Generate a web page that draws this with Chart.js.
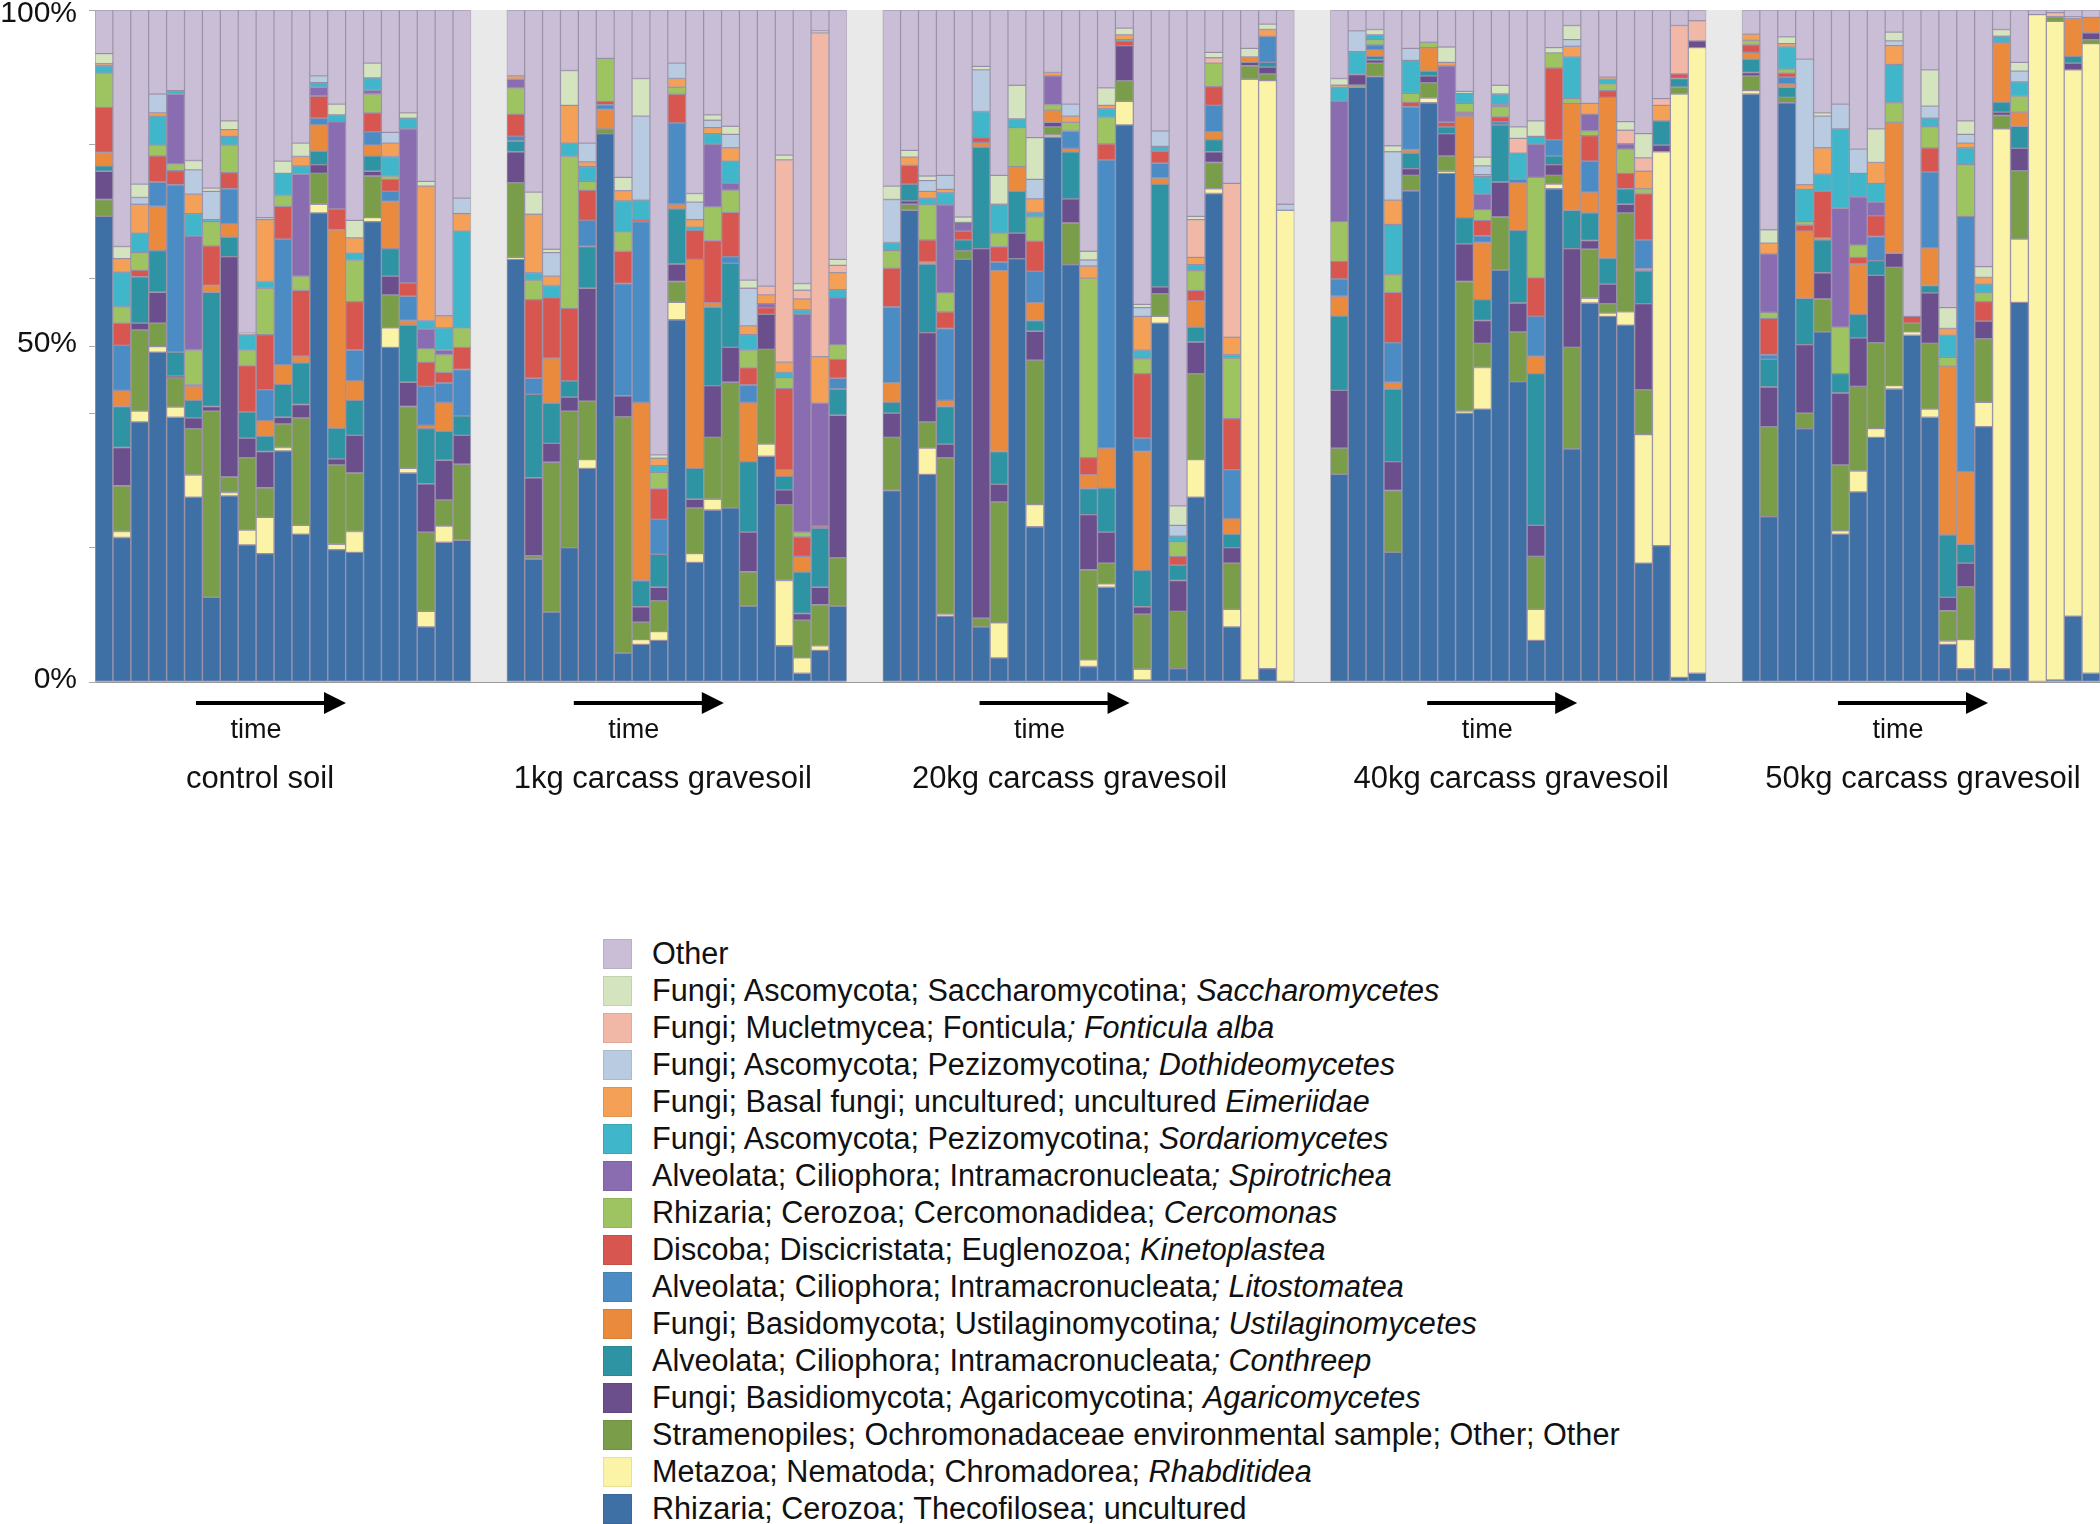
<!DOCTYPE html>
<html><head><meta charset="utf-8">
<script src="https://cdn.jsdelivr.net/npm/chart.js@4.4.1/dist/chart.umd.min.js"></script>
<style>
html,body{margin:0;padding:0;background:#fff;}
#wrap{position:relative;width:2100px;height:1524px;overflow:hidden;background:#fff;}
#c{position:absolute;left:0;top:0;}
#legend{position:absolute;left:603px;top:935px;font-family:"Liberation Sans",Arial,sans-serif;font-size:30.6px;color:#111;}
.row{height:37px;display:flex;align-items:center;white-space:nowrap;}
.sw{width:29px;height:30px;margin-right:20px;flex:none;box-sizing:border-box;border:1px solid rgba(0,0,0,0.08);}
</style></head><body>
<div id="wrap"><canvas id="c" width="2100" height="800"></canvas><div id="legend"></div></div>
<script>
// ---------------- DATA ----------------
const groupNames = ['control soil','1kg carcass gravesoil','20kg carcass gravesoil','40kg carcass gravesoil','50kg carcass gravesoil'];
const groupSizes = [21,19,23,21,20];
const axisWord = 'time';
const yTickLabels = {0:'0%',50:'50%',100:'100%'};

// series (stack order bottom -> top); values in %, bars listed group by group
const thecofilosea = [69.3,21.5,38.7,49.1,39.4,27.5,12.6,27.7,20.4,19.1,34.4,22.0,69.8,19.7,19.3,68.5,49.8,31.1,8.2,20.8,21.1,
 62.9,18.3,10.4,20.0,31.8,81.6,4.3,5.6,6.2,53.9,17.8,25.6,25.9,11.3,33.6,5.4,1.3,4.7,11.3,
 28.5,70.2,30.9,9.8,62.9,8.2,3.6,63.0,23.1,81.1,62.1,2.3,14.1,82.9,0.3,53.4,2.0,27.5,72.7,8.2,0.3,2.0,0,
 30.9,88.5,90.1,19.3,73.1,86.2,75.7,40.0,40.6,61.3,44.7,6.2,73.4,34.7,56.4,54.4,53.1,17.7,20.3,0.7,1.3,
 87.5,24.6,86.2,37.7,52.1,22.0,28.3,36.4,43.6,51.6,39.4,5.6,2.0,38.0,2.0,56.5,0,0.3,9.8,1.3];
const rhabditidea = [0,0.9,1.6,0.8,1.5,3.3,0,0.5,2.2,5.4,0.5,1.3,1.3,0.8,3.1,0.6,2.9,0.7,2.3,2.4,0,
 0.3,0,0,0,1.3,0,0,0.7,1.3,2.6,1.3,1.6,0,0,1.8,9.7,2.3,0.7,0,
 0,0,3.9,0.3,0,0,5.2,0,3.3,0.3,0,1.0,0.5,3.5,1.6,1.0,0,5.6,0.7,2.6,89.4,87.5,70.2,
 0,0,0,0,0,0.7,0.3,0.3,6.2,0,0,4.6,0.7,0,0.7,0.5,2.0,19.1,58.6,86.8,93.1,
 0.5,0,0,0,0,0.5,3.1,1.3,0.5,0.5,1.2,0.5,4.3,3.6,80.3,9.4,99.3,98.0,81.3,93.7];
const stramenopiles = [2.5,6.8,12.1,3.5,4.4,6.9,27.7,2.3,10.8,4.4,3.5,16.0,4.6,11.8,8.7,6.2,4.9,9.2,11.8,3.9,11.3,
 11.1,0.5,22.3,20.3,8.7,0.7,35.2,2.6,4.6,3.1,6.8,9.2,18.7,5.1,14.1,11.3,5.6,6.1,7.2,
 7.9,0.9,3.9,23.3,1.3,1.3,18.0,0,21.5,1.2,6.2,13.4,3.1,3.1,8.2,3.4,8.5,12.8,3.9,6.9,2.0,1.0,0,
 3.9,0.3,2.0,9.2,2.3,2.3,2.3,19.3,3.6,7.9,7.4,7.9,1.3,15.1,7.3,1.4,14.7,6.7,0,1.0,0,
 2.2,13.4,0.8,2.3,4.9,9.8,12.6,12.8,17.6,1.3,9.8,4.5,7.9,9.5,2.0,10.2,0,0.7,0,0.6];
const agaricomycetes = [4.2,5.7,1.0,4.6,0.2,1.6,0.7,32.8,2.9,5.4,1.0,2.0,1.3,0.9,5.6,0.7,2.8,3.6,7.2,5.9,4.3,
 4.6,11.6,2.8,2.1,16.8,0,3.1,2.3,2.0,2.6,1.3,7.7,5.2,5.9,5.2,2.2,1.0,2.6,21.2,
 3.6,0.5,13.3,2.0,0,55.0,2.6,3.8,4.3,0.7,3.6,8.2,4.6,5.2,1.1,1.0,4.6,4.7,1.6,2.3,0.5,1.0,0,
 8.6,1.6,0.5,4.3,1.0,1.0,3.3,5.6,3.4,5.2,4.3,4.6,1.6,14.7,1.3,2.9,1.3,12.8,1.0,0,1.0,
 0.5,5.9,0,10.2,3.9,10.7,7.2,10.0,2.1,0,7.5,2.0,3.5,2.6,0.5,3.3,0,0,1.0,1.0];
const conthreep = [0.8,6.1,6.9,6.2,3.6,2.6,17.0,2.9,3.9,2.3,4.9,6.2,2.0,4.6,5.2,2.3,4.1,8.5,8.2,4.3,2.9,
 1.6,12.4,6.0,2.4,6.2,0,0,3.9,4.9,8.2,4.6,11.7,12.5,10.5,0,2.0,6.2,8.8,3.9,
 1.6,2.5,10.2,5.6,1.6,15.1,4.9,6.2,1.6,0,7.0,3.9,6.6,0,5.4,15.3,2.3,2.2,1.8,2.0,0,0.7,0,
 11.1,0,0.5,10.8,2.3,0.7,1.0,3.9,3.1,8.5,10.8,22.6,1.3,5.7,4.1,3.9,2.3,4.9,3.6,1.3,0,
 2.0,4.1,1.5,6.9,4.9,2.9,3.5,2.2,0,0,1.1,9.3,2.8,0,1.5,3.3,0,0,1.0,0];
const ustilaginomycetes = [2.0,2.4,0,6.6,0,2.0,1.0,2.0,0,2.3,2.9,1.0,3.9,29.5,2.9,1.6,7.0,0.7,0.5,4.3,0,
 0,0,6.7,0,0,2.9,0,26.5,0,0.7,31.1,0.6,0,8.8,0,1.0,2.3,0,0,
 2.9,0,0.3,0.9,0,0.7,26.9,3.7,2.6,1.8,0.5,2.0,5.9,0,17.7,0.9,0,3.9,1.2,2.3,0.8,0,0,
 2.9,0,1.0,1.0,0.5,3.5,0,15.1,8.5,0,7.1,2.6,0,15.9,3.1,23.9,0,0.3,0,0,0,
 1.0,0,0.5,10.0,0.3,0,7.5,0,19.5,0,5.6,25.1,10.8,0,8.8,2.1,0,0,5.6,2.3];
const litostomatea = [0,6.7,0,3.6,24.9,0,0,5.2,0,4.6,18.7,0,1.0,0,4.6,2.0,1.5,3.6,5.8,2.9,6.9,
 0.7,2.4,0,0,3.9,0.7,16.7,26.9,5.2,12.1,0,0,1.0,2.6,0,0,0,0,1.6,
 11.3,0,0,10.7,0,0,1.3,0,4.7,0,2.6,0,42.9,0,2.0,2.2,0,0,3.9,7.3,0,3.9,0,
 2.6,0,0.7,5.9,6.4,0,0,0.3,1.0,0.5,0.5,5.9,2.4,0,4.6,0,0,4.3,0,0,0,
 0,0.7,1.0,0,0,0,0,3.6,0,0,11.3,0,38.0,0,0,0,0,0,0,0];
const kinetoplastea = [6.7,3.3,1.0,3.9,2.1,0.3,5.9,2.4,6.9,8.2,4.9,9.8,3.3,3.1,7.2,2.8,1.8,2.0,3.6,1.6,3.3,
 3.3,11.7,9.0,10.8,4.5,0.5,4.8,0.3,4.6,4.3,4.3,9.3,6.6,2.6,1.0,12.1,2.9,0.3,2.8,
 5.8,2.8,3.3,2.5,1.3,0.7,2.3,0,4.5,0,0,2.6,2.4,0.7,9.6,1.8,1.3,1.6,2.8,7.6,0,0,0,
 2.6,0,0,7.5,0.7,0,0.7,0.3,2.3,0.7,0,5.8,10.7,0,3.8,1.0,2.3,6.9,0,0.7,0,
 1.1,5.4,0.6,0.9,6.9,0,1.0,3.1,0,1.0,3.6,0,0,2.9,0,0,0,0,0,0];
const cercomonas = [5.1,2.4,2.6,1.6,1.0,5.2,3.6,4.1,2.3,6.9,1.6,2.1,0,0,6.2,2.8,0.5,0,2.0,2.6,2.9,
 3.9,2.9,0,22.6,1.3,6.4,2.9,0,2.4,1.0,0,5.0,3.3,2.6,0,1.6,0.7,0,2.2,
 2.6,0,5.2,2.8,0,0,2.0,5.8,3.6,0.8,1.3,26.7,3.9,0,2.2,0,2.2,2.9,3.5,9.0,0,0,0,
 5.9,0,0.8,2.6,1.3,0.8,0,1.3,1.6,1.5,0,14.9,2.2,0.7,0.7,1.0,3.6,0.7,0,0,0,
 0.7,0.9,0.6,0.5,0,6.9,1.8,0,2.9,0,3.1,1.3,7.7,1.3,0,2.4,0,0,0,0];
const spirotrichea = [0,0,0,0,10.4,17.0,0,0,0,0,0,15.2,1.3,13.0,0,0.6,0,22.9,2.9,0.7,0,
 1.3,0,0,0,0,0,0,0,0,0,0,9.3,1.0,0,0.6,0,32.4,18.3,7.0,
 0,0,0,13.1,1.3,0,0,0,0,4.3,0,0,0,0,0,0,0,0,0,0,0,0,0,
 17.9,0,0,0,0,0,8.4,0,2.3,0.3,0,4.9,0,0,2.5,0,0.8,0,0,0,0,
 0,8.7,0,0,0,17.7,7.2,2.0,0,0,0,0,0,0,0,0,0,0,0,0];
const sordariomycetes = [1.1,5.2,2.9,4.3,0.5,3.3,0.3,1.3,2.3,1.0,3.3,1.2,0.7,1.0,1.0,1.8,2.9,1.6,1.3,3.3,14.4,
 0,1.1,1.8,2.0,2.2,0,4.6,2.9,1.0,0,0.5,1.6,3.3,2.3,0,0.8,0.7,0,1.2,
 1.2,0,1.0,1.8,0,3.9,4.3,1.3,0.7,0,0,0,1.3,0.2,1.3,0.7,0.8,0.9,0,0.5,0,0,0,
 2.1,3.4,0.7,7.5,4.9,0,0,1.5,2.6,1.6,3.9,1.2,0,6.2,0,0.7,0,0,0,0,0,
 0,0,3.3,4.8,2.6,11.8,3.5,2.8,5.7,0,1.3,3.3,2.5,1.3,1.0,2.1,0,0,0,0];
const eimeriidae = [0.3,2.0,4.3,0.5,0,2.9,0,1.0,0,9.2,0,1.4,0,0,2.3,0,2.0,0,20.0,1.8,2.6,
 0.5,8.7,1.4,5.6,0.7,0,1.5,0,1.1,1.3,1.1,0.9,2.0,1.3,1.3,1.5,1.6,6.9,2.5,
 0,1.2,1.0,0.5,0,0,0,0,2.0,0.5,0.9,1.8,0.5,0.7,5.0,0,0,1.1,0,2.6,0,1.0,0,
 0.3,0,0,3.6,0,0,0.5,0,0.3,0,0,0,0,1.6,1.6,0.3,0,2.6,2.3,0,0,
 0.9,1.6,0.5,0.7,3.9,0,0,3.1,2.8,0,0,1.0,0.7,1.0,0,0,0,0,0,0];
const dothideomycetes = [0,0,1.0,2.8,0,3.6,4.2,0,0,0.3,0,0,1.0,0,0,0,1.6,0,0,0,2.3,
 0,0,3.5,0,2.8,0,0,12.5,0,2.3,2.6,1.1,2.0,5.6,0,0,0,0,0,
 6.4,0,1.6,2.1,0,6.2,0,0,2.9,0,1.8,0.9,0,0,1.3,2.3,1.6,0,0,0,0,0,0.9,
 0,3.1,0,7.2,1.8,0,0,0,1.3,0,0,0,0,1.0,0,0,0,0,0,0,0,
 0,0,0,18.7,4.7,3.7,3.6,0,0.7,0,1.8,0,1.3,0,0,1.6,0,0,0,0];
const fonticula = [0,0,0,0,0,0,0,0,0,0,0,0,0,0,0,0,0,0,0,0,0,
 0,0,0,0,0,0,0,0,0,0,0,0,0,0,1.3,30.1,1.3,48.2,1.1,
 0,0,0,0,0,0,0,0,0,0,0,0,0,0,0,0,0,5.6,0.8,22.9,0,0,0,
 0,0,0,0,0,0,0,0,0,0,2.2,0,0,0,0,0,2.0,2.0,1.0,7.2,3.0,
 0,0,0,0,0,0,0,0,0,0,0,0,0,0,0,0,0,0.6,0.3,0];
const saccharomycetes = [1.5,1.8,2.0,0,0,1.4,0.5,1.3,0.2,0,1.8,2.0,0,1.6,2.6,2.2,0,0.8,0.7,0,0,
 0,3.3,0.5,5.2,0,0,2.0,5.6,0.5,0,1.3,0.8,1.2,1.2,0,0.7,1.0,0.3,0.9,
 2.0,1.0,0.7,0,0.8,0.5,4.3,5.0,6.2,0,0,1.3,2.6,1.0,0.5,0,2.9,0.5,0.8,0,1.3,0.8,0,
 1.0,0,0.8,0.9,0,0,2.3,0.3,1.3,1.3,1.7,2.3,0.8,2.1,0,0,1.3,3.6,0,0,0,
 0,2.0,1.0,0,0.5,0,0,5.0,1.3,0,5.4,3.1,2.0,1.6,1.0,1.3,0,0,0,0];
const other = [6.5,35.2,25.9,12.5,12.0,22.4,26.5,16.5,48.1,30.9,22.5,19.8,9.8,14.0,31.3,7.9,18.2,15.3,25.5,45.5,28.0,
 9.8,27.1,35.6,9.0,19.8,7.2,24.9,10.2,66.2,7.9,27.3,15.6,17.3,40.2,41.1,21.6,40.7,3.1,37.1,
 26.2,20.9,24.7,24.6,30.8,8.4,24.6,11.2,19.0,9.3,14.0,35.9,11.6,2.7,43.8,18.0,73.8,30.7,6.3,25.8,5.7,2.1,28.9,
 10.2,3.1,2.9,20.2,5.7,4.8,5.5,12.1,21.9,11.2,17.4,16.5,5.6,2.3,13.9,10.0,16.6,18.4,13.2,2.3,1.6,
 3.6,32.7,4.0,7.3,15.3,14.0,20.7,17.7,3.3,45.6,8.9,44.3,16.5,38.2,2.9,7.8,0.7,0.4,1.0,1.1];

const seriesValues = [thecofilosea,rhabditidea,stramenopiles,agaricomycetes,conthreep,ustilaginomycetes,litostomatea,kinetoplastea,cercomonas,spirotrichea,sordariomycetes,eimeriidae,dothideomycetes,fonticula,saccharomycetes,other];
const seriesNames = ['Rhizaria; Cerozoa; Thecofilosea; uncultured','Metazoa; Nematoda; Chromadorea; ','Stramenopiles; Ochromonadaceae environmental sample; Other; Other','Fungi; Basidiomycota; Agaricomycotina; ','Alveolata; Ciliophora; Intramacronucleata','Fungi; Basidomycota; Ustilaginomycotina','Alveolata; Ciliophora; Intramacronucleata','Discoba; Discicristata; Euglenozoa; ','Rhizaria; Cerozoa; Cercomonadidea; ','Alveolata; Ciliophora; Intramacronucleata','Fungi; Ascomycota; Pezizomycotina; ','Fungi; Basal fungi; uncultured; uncultured ','Fungi; Ascomycota; Pezizomycotina','Fungi; Mucletmycea; Fonticula','Fungi; Ascomycota; Saccharomycotina; ','Other'];
const seriesItalic = ['','Rhabditidea','','Agaricomycetes','; Conthreep','; Ustilaginomycetes','; Litostomatea','Kinetoplastea','Cercomonas','; Spirotrichea','Sordariomycetes','Eimeriidae','; Dothideomycetes','; Fonticula alba','Saccharomycetes',''];
const seriesColors = ['#3e70a6','#fbf3a5','#7a9d4a','#6a4f8c','#2e93a3','#e98a3d','#4c8cc4','#d85650','#9dc461','#8a6cb0','#3fb6c9','#f4a057','#b9cbe0','#f1b8a8','#d3e4be','#c9bed6'];

// annotation placement under each group (pixel shifts from group centre)
const arrowShift = [-12,-28,-34,-16,-8];
const labelShift = [-23,-14,-19,-7,2];

// ---------------- BUILD ----------------
const GAP = 2;
const labels = [], isGap = [];
groupNames.forEach((g,gi)=>{
  if(gi>0) for(let k=0;k<GAP;k++){labels.push(''); isGap.push(true);}
  for(let i=0;i<groupSizes[gi];i++){labels.push(g+' '+(i+1)); isGap.push(false);}
});
function expand(arr){
  const out=[]; let p=0;
  groupSizes.forEach((n,gi)=>{
    if(gi>0) for(let k=0;k<GAP;k++) out.push(null);
    for(let i=0;i<n;i++){ const v=arr[p++]; out.push(v===0?null:v); }
  });
  return out;
}
const datasets = seriesValues.map((vals,i)=>({
  label: seriesNames[i]+seriesItalic[i],
  data: expand(vals),
  backgroundColor: seriesColors[i],
  borderColor: 'rgba(40,40,60,0.22)',
  borderWidth: 1,
  borderSkipped: false,
  barPercentage: 1,
  categoryPercentage: 1
}));

const FONT = '"Liberation Sans", Arial, sans-serif';
const bgPlugin = {
  id:'bg',
  beforeDatasetsDraw(chart){
    const {ctx, chartArea:a, scales:{x}} = chart;
    ctx.save();
    ctx.fillStyle = seriesColors[seriesColors.length-1];
    ctx.fillRect(a.left,a.top,a.right-a.left,a.bottom-a.top);
    const w=(a.right-a.left)/labels.length;
    ctx.fillStyle='#e9e9e9';
    isGap.forEach((g,i)=>{ if(g){ const cx=x.getPixelForValue(i); ctx.fillRect(cx-w/2-0.5,a.top,w+1,a.bottom-a.top);} });
    ctx.restore();
  }
};
const annoPlugin = {
  id:'anno',
  afterDraw(chart){
    const {ctx, scales:{x,y}, chartArea:a} = chart;
    ctx.save();
    // y tick labels (kept inside the canvas at the top)
    ctx.font='30px '+FONT; ctx.fillStyle='#111'; ctx.textAlign='right'; ctx.textBaseline='middle';
    Object.keys(yTickLabels).forEach(k=>{
      const py=Math.max(y.getPixelForValue(+k)-2, 14);
      ctx.fillText(yTickLabels[k], a.left-18, py);
    });
    let start=0;
    groupSizes.forEach((n,gi)=>{
      if(gi>0) start+=GAP;
      const c=(x.getPixelForValue(start)+x.getPixelForValue(start+n-1))/2;
      start+=n;
      const ac=c+arrowShift[gi], ay=703;
      ctx.strokeStyle='#000'; ctx.fillStyle='#000'; ctx.lineWidth=4;
      ctx.beginPath(); ctx.moveTo(ac-75,ay); ctx.lineTo(ac+60,ay); ctx.stroke();
      ctx.beginPath(); ctx.moveTo(ac+75,ay); ctx.lineTo(ac+53,ay-11); ctx.lineTo(ac+53,ay+11); ctx.closePath(); ctx.fill();
      ctx.textAlign='center'; ctx.textBaseline='middle';
      ctx.font='27px '+FONT; ctx.fillStyle='#111';
      ctx.fillText(axisWord, ac-15, 731);
      ctx.font='31px '+FONT;
      ctx.fillText(groupNames[gi], c+labelShift[gi], 779);
    });
    ctx.restore();
  }
};

Chart.defaults.font.family = FONT;
const chart = new Chart(document.getElementById('c'), {
  type:'bar',
  data:{labels, datasets},
  options:{
    responsive:false, animation:false, devicePixelRatio:1,
    layout:{autoPadding:false, padding:{top:10,bottom:118,left:0,right:0}},
    plugins:{legend:{display:false}, tooltip:{enabled:false}},
    scales:{
      x:{stacked:true, ticks:{display:false}, grid:{display:false}, border:{display:true,color:'#999'},
         afterFit(s){s.height=0; s.paddingLeft=0; s.paddingRight=0;}},
      y:{stacked:true, min:0, max:100,
         afterBuildTicks(s){ s.ticks=[0,20,40,50,60,80,100].map(v=>({value:v})); },
         ticks:{display:false},
         grid:{drawOnChartArea:false, drawTicks:true, tickLength:6, color:'#aaa'},
         border:{display:true,color:'#aaa'},
         afterFit(s){s.width=95; s.paddingTop=0; s.paddingBottom=0;}}
    }
  },
  plugins:[bgPlugin, annoPlugin]
});

// ---------------- HTML LEGEND ----------------
const lg=document.getElementById('legend');
for(let i=seriesNames.length-1;i>=0;i--){
  const row=document.createElement('div'); row.className='row';
  const sw=document.createElement('div'); sw.className='sw'; sw.style.background=seriesColors[i];
  const t=document.createElement('span');
  t.appendChild(document.createTextNode(seriesNames[i]));
  if(seriesItalic[i]){ const it=document.createElement('i'); it.textContent=seriesItalic[i]; t.appendChild(it); }
  row.appendChild(sw); row.appendChild(t); lg.appendChild(row);
}
</script>
</body></html>
